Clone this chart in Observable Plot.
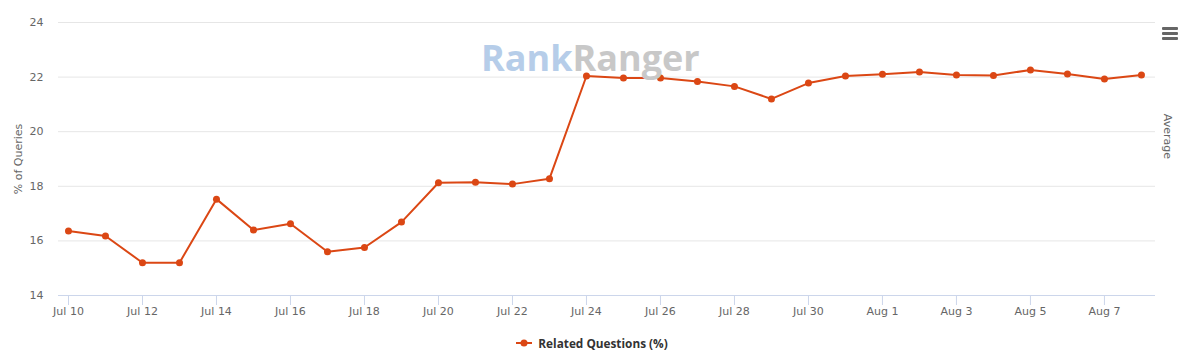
<!DOCTYPE html>
<html>
<head>
<meta charset="utf-8">
<script src="https://cdn.jsdelivr.net/npm/d3@7"></script>
<script src="https://cdn.jsdelivr.net/npm/@observablehq/plot@0.6"></script>
<style>
  html, body { margin: 0; padding: 0; background: #fff; }
  #wrap { position: relative; width: 1194px; height: 355px; font-family: "DejaVu Sans", sans-serif; }
  #watermark { position: absolute; left: 481px; top: 33px; font-family: "Open Sans", sans-serif; font-weight: 700; font-size: 36px; letter-spacing: 0px; white-space: nowrap; }
  #menu { position: absolute; left: 1162px; top: 27px; width: 16px; }
  #menu div { height: 2.6px; background: #666; margin-bottom: 2.6px; border-radius: 1px; }
  #legend { height: 30px; display: flex; justify-content: center; align-items: center; padding-top: 6px; padding-right: 10px; box-sizing: border-box; font-family: "Open Sans", sans-serif; font-weight: 700; font-size: 11.8px; color: #333; }
  #legend svg { margin-right: 6px; }
</style>
</head>
<body>
<div id="wrap">
  <div id="chart"></div>
  <div id="watermark"><span style="color:#b6cde9">Rank</span><span style="color:#c8c8c8">Ranger</span></div>
  <div id="menu"><div></div><div></div><div></div></div>
  <div id="legend"></div>
</div>
<script>
const dates = [
  "2017-07-10","2017-07-11","2017-07-12","2017-07-13","2017-07-14","2017-07-15",
  "2017-07-16","2017-07-17","2017-07-18","2017-07-19","2017-07-20","2017-07-21",
  "2017-07-22","2017-07-23","2017-07-24","2017-07-25","2017-07-26","2017-07-27",
  "2017-07-28","2017-07-29","2017-07-30","2017-07-31","2017-08-01","2017-08-02",
  "2017-08-03","2017-08-04","2017-08-05","2017-08-06","2017-08-07","2017-08-08"
];
const relatedQuestions = [
  16.36, 16.18, 15.20, 15.20, 17.53, 16.40,
  16.63, 15.60, 15.76, 16.69, 18.13, 18.15,
  18.08, 18.28, 22.04, 21.97, 21.97, 21.84,
  21.66, 21.20, 21.78, 22.04, 22.10, 22.19,
  22.08, 22.06, 22.26, 22.11, 21.93, 22.08
];
const xTicks = ["2017-07-10","2017-07-12","2017-07-14","2017-07-16","2017-07-18","2017-07-20",
  "2017-07-22","2017-07-24","2017-07-26","2017-07-28","2017-07-30","2017-08-01",
  "2017-08-03","2017-08-05","2017-08-07"];
const yTicks = [14, 16, 18, 20, 22, 24];
const seriesName = "Related Questions (%)";
const yTitle = "% of Queries";
const rightTitle = "Average";
const lineColor = "#db4714";

const data = dates.map((d, i) => ({date: new Date(d + "T00:00:00Z"), value: relatedQuestions[i]}));
const DAY = 864e5;
const first = data[0].date, last = data[data.length - 1].date;

const chart = Plot.plot({
  width: 1194,
  height: 325,
  marginLeft: 58,
  marginRight: 39,
  marginTop: 22,
  marginBottom: 30,
  style: {fontFamily: "DejaVu Sans, sans-serif", fontSize: "11px", color: "#666", background: "#fff"},
  x: {type: "utc", domain: [new Date(+first - 0.27 * DAY), new Date(+last + 0.38 * DAY)]},
  y: {domain: [14, 24]},
  marks: [
    Plot.gridY(yTicks, {stroke: "#e6e6e6", strokeOpacity: 1}),
    Plot.ruleY([14], {stroke: "#ccd6eb"}),
    Plot.axisY({ticks: yTicks, tickSize: 0, tickPadding: 15, label: yTitle, labelAnchor: "center", labelArrow: "none", labelOffset: 44, fill: "#666"}),
    Plot.axisX({ticks: xTicks.map(d => new Date(d + "T00:00:00Z")), tickSize: 10, tickPadding: 2, stroke: "#ccd6eb", tickFormat: d3.utcFormat("%b %-d"), label: null, fill: "#666"}),
    Plot.text([rightTitle], {frameAnchor: "right", rotate: 90, dx: 12, fill: "#666", fontSize: 11}),
    Plot.line(data, {x: "date", y: "value", stroke: lineColor, strokeWidth: 2}),
    Plot.dot(data, {x: "date", y: "value", r: 3.5, fill: lineColor, stroke: "none"})
  ]
});
document.getElementById("chart").appendChild(chart);

const legend = document.getElementById("legend");
legend.innerHTML = `<svg width="16" height="10"><line x1="0" x2="16" y1="5" y2="5" stroke="${lineColor}" stroke-width="2"/><circle cx="8" cy="5" r="3.5" fill="${lineColor}"/></svg><span></span>`;
legend.querySelector("span").textContent = seriesName;
</script>
</body>
</html>
